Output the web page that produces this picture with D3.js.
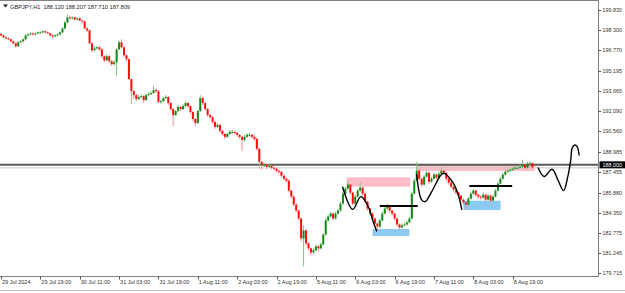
<!DOCTYPE html>
<html><head><meta charset="utf-8">
<script src="https://cdn.jsdelivr.net/npm/d3@7"></script>
<style>html,body{margin:0;padding:0;background:#fff;overflow:hidden}</style>
</head><body>
<svg id="c" width="625" height="293"></svg>
<script>
// ---------- DATA ----------
const symbolTitle = "GBPJPY,H1";
const headerValues = ["188.120", "188.207", "187.710", "187.809"];

const xTickBars = [0, 16, 32, 48, 64, 80, 96, 112, 128, 144, 160, 176, 192, 208];
const xTickLabels = ["29 Jul 2024", "29 Jul 19:00", "30 Jul 11:00", "31 Jul 03:00", "31 Jul 19:00",
  "1 Aug 11:00", "2 Aug 03:00", "2 Aug 19:00", "5 Aug 11:00", "6 Aug 03:00", "6 Aug 19:00",
  "7 Aug 11:00", "8 Aug 03:00", "8 Aug 19:00"];

const yTickValues = [199.830, 198.300, 196.770, 195.195, 193.665, 192.090, 190.560, 188.985,
  187.455, 185.880, 184.350, 182.775, 181.245, 179.715];

const open = [198.00,197.89,197.74,197.66,197.59,197.44,197.28,197.06,197.36,197.44,
197.59,197.89,197.97,198.04,197.97,198.04,198.12,198.12,198.20,198.12,
198.04,197.89,197.82,197.89,197.97,198.12,198.42,198.88,199.26,199.19,
199.26,199.11,199.19,199.03,198.96,198.42,198.27,197.28,196.75,196.90,
196.98,196.83,196.30,195.99,196.30,195.92,195.69,195.84,196.83,197.36,
196.98,196.37,196.07,194.55,193.63,193.33,193.03,193.18,193.25,192.95,
193.33,193.41,193.48,193.71,193.63,192.80,192.87,193.10,193.18,192.72,
192.26,191.81,192.11,192.42,192.26,192.49,192.72,192.49,192.04,191.50,
191.20,192.11,193.10,192.72,192.26,191.81,191.66,191.28,190.90,191.05,
190.59,190.36,190.14,190.36,190.52,190.52,190.44,190.29,190.14,189.91,
190.14,190.29,190.29,190.14,189.98,189.22,188.23,188.01,188.01,187.85,
187.93,187.78,187.70,187.55,187.47,187.17,186.94,186.79,186.03,185.57,
184.96,184.51,183.90,182.38,182.99,182.00,181.62,181.31,181.47,181.77,
181.62,181.92,182.68,183.75,184.05,184.28,183.90,184.28,184.51,185.04,
185.80,186.18,186.49,185.88,185.04,185.57,186.03,186.26,185.80,185.19,
184.66,184.28,183.90,183.52,183.29,183.75,184.28,184.66,184.81,184.51,
184.28,183.90,183.44,183.22,183.37,183.44,183.60,183.90,185.80,186.79,
187.55,186.94,186.49,187.09,187.40,186.71,186.94,187.25,187.02,187.32,
187.55,187.40,186.94,186.64,186.33,186.10,185.88,185.65,185.34,185.12,
184.96,185.42,185.80,186.03,185.72,185.57,185.50,185.72,185.34,185.65,
185.27,185.57,186.03,186.56,186.94,187.25,187.47,187.55,187.63,187.70,
187.78,187.78,187.85,188.01,187.78,188.08,188.12];

const high = [198.08,197.97,197.82,197.74,197.66,197.51,197.36,197.44,197.51,197.66,
197.97,198.04,198.12,198.12,198.12,198.20,198.20,198.27,198.27,198.20,
198.12,197.97,197.97,198.04,198.20,198.50,198.96,199.49,199.41,199.34,
199.34,199.26,199.26,199.11,199.03,198.50,198.35,197.36,197.06,197.06,
197.06,196.90,196.37,196.45,196.37,195.99,195.99,196.90,197.51,197.59,
197.06,196.45,196.15,194.62,193.71,193.41,193.33,193.41,193.33,193.41,
193.56,193.63,194.01,193.86,193.71,192.95,193.18,193.33,193.25,192.80,
192.34,192.19,192.57,192.49,192.65,192.87,192.80,192.57,192.11,191.58,
192.19,193.33,193.25,192.80,192.34,191.88,191.73,191.35,191.20,191.12,
190.67,190.44,190.44,190.67,190.67,190.59,190.52,190.36,190.21,190.29,
190.44,190.44,190.36,190.29,190.06,189.30,188.31,188.16,188.08,188.08,
188.01,187.85,187.78,187.63,187.55,187.25,187.02,186.87,186.10,185.65,
185.04,184.58,183.98,183.37,183.07,182.08,181.70,181.62,181.92,181.85,
182.08,182.76,183.98,184.20,184.43,184.35,184.43,184.66,185.19,185.95,
186.33,186.79,186.56,185.95,185.72,186.18,186.64,186.33,185.88,185.27,
184.73,184.35,183.98,183.60,183.90,184.43,184.81,185.04,184.89,184.58,
184.35,183.98,183.52,183.52,183.60,183.75,184.05,185.95,186.94,188.23,
187.70,187.02,187.25,187.63,187.47,187.09,187.40,187.32,187.47,187.78,
187.63,187.47,187.02,186.71,186.41,186.18,185.95,185.72,185.42,185.19,
185.57,185.95,186.18,186.10,185.80,185.65,185.88,185.80,185.80,185.72,
185.72,186.18,186.71,187.09,187.40,187.63,187.70,187.78,187.85,187.93,
187.93,188.01,188.40,188.08,188.23,188.27,188.207];

const low = [197.82,197.66,197.59,197.51,197.36,197.21,196.95,197.00,197.28,197.36,
197.51,197.82,197.89,197.89,197.89,197.97,198.04,198.04,198.04,197.97,
197.82,197.59,197.74,197.82,197.89,198.04,198.35,198.80,199.11,199.11,
199.03,199.03,198.96,198.80,198.35,198.12,197.21,196.60,196.68,196.83,
196.68,196.15,195.84,195.92,195.76,195.54,195.61,194.77,196.75,196.90,
196.22,195.92,194.47,192.65,193.03,192.87,192.95,193.10,192.72,192.87,
193.25,193.33,193.41,193.48,192.72,192.65,192.80,193.03,192.57,192.11,
190.97,191.73,192.04,192.11,192.19,192.42,192.34,191.88,191.35,190.97,
191.12,192.04,192.57,192.11,191.66,191.50,191.12,190.74,190.82,190.44,
190.21,189.98,190.06,190.29,190.36,190.29,190.14,189.98,189.07,189.76,
190.06,190.14,189.98,189.83,189.07,187.70,187.63,187.85,187.70,187.78,
187.63,187.55,187.40,187.32,187.02,186.79,186.64,185.88,185.42,184.81,
184.35,183.75,182.15,180.25,181.85,181.47,181.09,181.16,181.39,181.39,
181.54,181.85,182.61,183.67,183.98,183.75,183.82,184.20,184.43,184.96,
185.72,186.10,185.72,184.89,184.96,185.50,185.95,185.65,185.04,184.51,
184.13,183.75,183.37,182.99,183.14,183.67,184.20,184.58,184.35,184.13,
183.75,183.29,183.07,183.14,183.29,183.37,183.52,183.82,185.72,186.71,
186.79,186.33,186.41,187.02,186.56,186.64,186.87,186.87,186.94,187.25,
187.25,186.79,186.49,186.18,185.95,185.72,185.50,185.19,184.96,184.59,
184.89,185.34,185.72,185.57,185.42,185.34,185.42,185.19,185.27,185.12,
185.19,185.50,185.95,186.49,186.87,187.17,187.40,187.47,187.55,187.63,
187.70,187.70,187.78,187.63,187.70,187.93,187.710];

const close = [197.89,197.74,197.66,197.59,197.44,197.28,197.06,197.36,197.44,197.59,
197.89,197.97,198.04,197.97,198.04,198.12,198.12,198.20,198.12,198.04,
197.89,197.82,197.89,197.97,198.12,198.42,198.88,199.26,199.19,199.26,
199.11,199.19,199.03,198.96,198.42,198.27,197.28,196.75,196.90,196.98,
196.83,196.30,195.99,196.30,195.92,195.69,195.84,196.83,197.36,196.98,
196.37,196.07,194.55,193.63,193.33,193.03,193.18,193.25,192.95,193.33,
193.41,193.48,193.71,193.63,192.80,192.87,193.10,193.18,192.72,192.26,
191.81,192.11,192.42,192.26,192.49,192.72,192.49,192.04,191.50,191.20,
192.11,193.10,192.72,192.26,191.81,191.66,191.28,190.90,191.05,190.59,
190.36,190.14,190.36,190.52,190.52,190.44,190.29,190.14,189.91,190.14,
190.29,190.29,190.14,189.98,189.22,188.23,188.01,188.01,187.85,187.93,
187.78,187.70,187.55,187.47,187.17,186.94,186.79,186.03,185.57,184.96,
184.51,183.90,182.38,182.99,182.00,181.62,181.31,181.47,181.77,181.62,
181.92,182.68,183.75,184.05,184.28,183.90,184.28,184.51,185.04,185.80,
186.18,186.49,185.88,185.04,185.57,186.03,186.26,185.80,185.19,184.66,
184.28,183.90,183.52,183.29,183.75,184.28,184.66,184.81,184.51,184.28,
183.90,183.44,183.22,183.37,183.44,183.60,183.90,185.80,186.79,187.55,
186.94,186.49,187.09,187.40,186.71,186.94,187.25,187.02,187.32,187.55,
187.40,186.94,186.64,186.33,186.10,185.88,185.65,185.34,185.12,184.96,
185.42,185.80,186.03,185.72,185.57,185.50,185.72,185.34,185.65,185.27,
185.57,186.03,186.56,186.94,187.25,187.47,187.55,187.63,187.70,187.78,
187.78,187.85,188.01,187.78,188.08,188.12,187.809];

// horizontal level line
const levelPrice = 188.000;
// zones: [fromBar, toBar, topPrice, bottomPrice]
const supplyZones = [[140.5, 166.3, 187.05, 186.33], [169.0, 217.0, 188.07, 187.53]];
const demandZones = [[151.0, 166.0, 183.10, 182.56], [188.0, 203.1, 185.26, 184.55]];
// black horizontal segments: [fromBar, toBar, price]
const breakLines = [[154.0, 169.4, 184.86], [190.4, 207.8, 186.39]];
// hand-drawn paths: arrays of [bar, price]
const sketch1 = [[138.9,186.29],[143.0,184.60],[146.3,185.57],[149.3,184.80],[151.3,183.66],[152.7,182.95]];
const sketch2 = [[169.0,187.22],[171.0,185.32],[172.4,185.19],[175.1,185.95],[179.8,187.36],[183.9,186.59],[185.9,185.70],[187.3,184.60]];
const sketch3 = [[218.4,187.76],[220.8,187.11],[224.0,187.66],[226.4,186.84],[228.7,186.03],[230.4,187.10],[231.6,188.37],[232.2,189.29],[233.2,189.52],[234.2,189.39],[235.0,188.75]];

// ---------- DRAW ----------
const W = 625, H = 293;
const plotRight = 598.5, plotBottom = 276.5, plotTop = 0.5;
const svg = d3.select("#c");
const FONT = "'Liberation Sans', Arial, sans-serif";

const x = d3.scaleLinear().domain([0, 216]).range([1, 1 + 216 * 2.46]);
const y = d3.scaleLinear().domain([199.83, 179.715]).range([10, 273.3]);

svg.append("defs").append("clipPath").attr("id", "plot")
  .append("rect").attr("x", 0).attr("y", plotTop).attr("width", plotRight).attr("height", plotBottom - plotTop);

const plot = svg.append("g").attr("clip-path", "url(#plot)");

// zones (behind candles)
plot.selectAll("rect.sup").data(supplyZones).join("rect").attr("class", "sup")
  .attr("x", d => x(d[0])).attr("width", d => x(d[1]) - x(d[0]))
  .attr("y", d => y(d[2])).attr("height", d => y(d[3]) - y(d[2]))
  .attr("fill", "#ffbdc8");
plot.selectAll("rect.dem").data(demandZones).join("rect").attr("class", "dem")
  .attr("x", d => x(d[0])).attr("width", d => x(d[1]) - x(d[0]))
  .attr("y", d => y(d[2])).attr("height", d => y(d[3]) - y(d[2]))
  .attr("fill", "#8cc9f3");

// level line and bid line
plot.append("line").attr("x1", 0).attr("x2", plotRight)
  .attr("y1", y(close[close.length - 1]) + 0.5).attr("y2", y(close[close.length - 1]) + 0.5)
  .attr("stroke", "#c8c8c8").attr("stroke-width", 1);
plot.append("line").attr("x1", 0).attr("x2", plotRight)
  .attr("y1", y(levelPrice)).attr("y2", y(levelPrice))
  .attr("stroke", "#5a5a5a").attr("stroke-width", 2);

// candles
const idx = d3.range(close.length);
const bull = i => close[i] >= open[i];
plot.selectAll("line.wick").data(idx).join("line").attr("class", "wick")
  .attr("x1", i => x(i)).attr("x2", i => x(i))
  .attr("y1", i => y(high[i])).attr("y2", i => y(low[i]))
  .attr("stroke", i => bull(i) ? "#7cc47c" : "#ff8c8c").attr("stroke-width", 1);
plot.selectAll("rect.body").data(idx).join("rect").attr("class", "body")
  .attr("x", i => x(i) - 1).attr("width", 2)
  .attr("y", i => y(Math.max(open[i], close[i])))
  .attr("height", i => Math.max(1, Math.abs(y(open[i]) - y(close[i]))))
  .attr("fill", i => bull(i) ? "#14881a" : "#ff0c0c");

// black segments
plot.selectAll("line.brk").data(breakLines).join("line").attr("class", "brk")
  .attr("x1", d => x(d[0])).attr("x2", d => x(d[1]))
  .attr("y1", d => y(d[2])).attr("y2", d => y(d[2]))
  .attr("stroke", "#000").attr("stroke-width", 2);

// sketches
const sk = d3.line().x(d => x(d[0])).y(d => y(d[1])).curve(d3.curveCatmullRom.alpha(0.5));
[sketch1, sketch2, sketch3].forEach(s => {
  plot.append("path").attr("d", sk(s)).attr("fill", "none")
    .attr("stroke", "#000").attr("stroke-width", 1.4).attr("stroke-linecap", "round").attr("stroke-linejoin", "round");
});

// frame
svg.append("line").attr("x1", 0).attr("x2", plotRight).attr("y1", plotTop).attr("y2", plotTop).attr("stroke", "#808080");
svg.append("line").attr("x1", plotRight).attr("x2", plotRight).attr("y1", plotTop).attr("y2", plotBottom).attr("stroke", "#808080");
svg.append("line").attr("x1", 0).attr("x2", plotRight).attr("y1", plotBottom).attr("y2", plotBottom).attr("stroke", "#808080");

// y axis labels
const ya = svg.append("g");
ya.selectAll("line").data(yTickValues).join("line")
  .attr("x1", plotRight).attr("x2", plotRight + 2.5)
  .attr("y1", d => Math.round(y(d)) + 0.5).attr("y2", d => Math.round(y(d)) + 0.5)
  .attr("stroke", "#555");
ya.selectAll("text").data(yTickValues).join("text")
  .attr("x", plotRight + 4).attr("y", d => y(d) + 2)
  .attr("font-family", FONT).attr("font-size", 5.4).attr("fill", "#333")
  .text(d => d3.format(".3f")(d));

// level price label box
svg.append("rect").attr("x", plotRight + 1).attr("y", y(levelPrice) - 3.5).attr("width", W - plotRight - 1).attr("height", 7).attr("fill", "#000");
svg.append("text").attr("x", plotRight + 4).attr("y", y(levelPrice) + 2)
  .attr("font-family", FONT).attr("font-size", 5.4).attr("fill", "#fff").text(d3.format(".3f")(levelPrice));

// x axis
const xa = svg.append("g");
xa.selectAll("line").data(xTickBars).join("line")
  .attr("x1", d => Math.round(x(d)) + 0.5).attr("x2", d => Math.round(x(d)) + 0.5)
  .attr("y1", plotBottom).attr("y2", plotBottom + 3).attr("stroke", "#555");
xa.selectAll("text").data(xTickBars).join("text")
  .attr("x", d => x(d) + 1).attr("y", 284)
  .attr("font-family", FONT).attr("font-size", 5.5).attr("fill", "#333")
  .text((d, i) => xTickLabels[i]);

// header
svg.append("path").attr("d", "M3,4.5 L8,4.5 L5.5,7.5 Z").attr("fill", "#222");
svg.append("text").attr("x", 10).attr("y", 8.5)
  .attr("font-family", FONT).attr("font-size", 5.6).attr("fill", "#222").attr("xml:space", "preserve")
  .attr("textLength", 120).attr("lengthAdjust", "spacingAndGlyphs")
  .text(symbolTitle + "  " + headerValues.join(" "));

// bottom tab strip
svg.append("line").attr("x1", 0).attr("x2", W).attr("y1", 290.5).attr("y2", 290.5).attr("stroke", "#c0c0c0");
</script>
</body></html>
